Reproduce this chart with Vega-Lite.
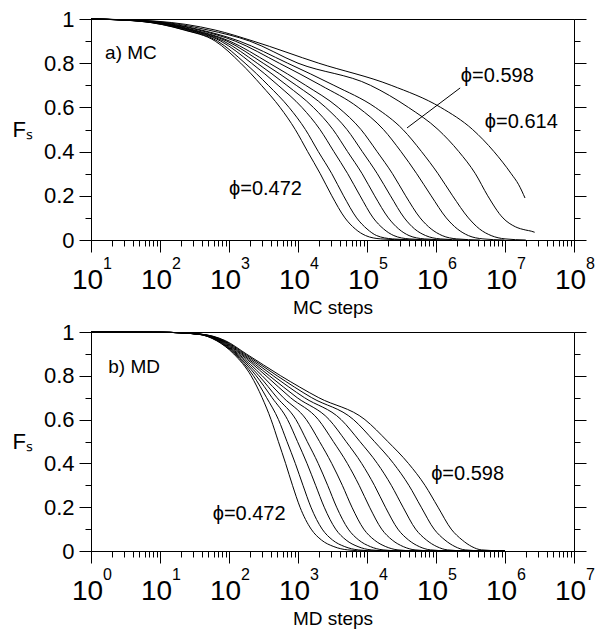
{
  "$schema": "https://vega.github.io/schema/vega-lite/v6.json",
  "padding": {"left": 11, "top": 7, "right": 2, "bottom": 2},
  "spacing": 2,
  "config": {
    "font": "Liberation Sans",
    "view": {"stroke": "black", "strokeWidth": 1},
    "axis": {"domainColor": "black", "tickColor": "black", "labelColor": "black", "titleColor": "black", "grid": false, "titleFontWeight": "normal", "labelFont": "Liberation Sans", "titleFont": "Liberation Sans", "labelFlush": false, "labelOverlap": false},
    "text": {"font": "Liberation Sans", "color": "black"}
  },
  "datasets": {
    "mc": [
      {"s":"c1","t":10,"F":1},{"s":"c1","t":50.1,"F":0.99},{"s":"c1","t":224,"F":0.95},{"s":"c1","t":631,"F":0.9},{"s":"c1","t":1480,"F":0.8},{"s":"c1","t":2950,"F":0.7},{"s":"c1","t":5500,"F":0.6},{"s":"c1","t":9120,"F":0.5},{"s":"c1","t":13800,"F":0.4},{"s":"c1","t":21000,"F":0.3},{"s":"c1","t":30900,"F":0.2},{"s":"c1","t":47900,"F":0.1},{"s":"c1","t":67600,"F":0.05},{"s":"c1","t":95500,"F":0.02},{"s":"c1","t":158000,"F":0.005},{"s":"c1","t":398000,"F":0},
      {"s":"c2","t":10,"F":1},{"s":"c2","t":51.3,"F":0.99},{"s":"c2","t":234,"F":0.95},{"s":"c2","t":680,"F":0.9},{"s":"c2","t":1710,"F":0.8},{"s":"c2","t":3710,"F":0.7},{"s":"c2","t":7410,"F":0.6},{"s":"c2","t":12800,"F":0.5},{"s":"c2","t":19700,"F":0.4},{"s":"c2","t":30900,"F":0.3},{"s":"c2","t":45700,"F":0.2},{"s":"c2","t":70800,"F":0.1},{"s":"c2","t":100000,"F":0.05},{"s":"c2","t":138000,"F":0.02},{"s":"c2","t":234000,"F":0.005},{"s":"c2","t":575000,"F":0},
      {"s":"c3","t":10,"F":1},{"s":"c3","t":54.3,"F":0.99},{"s":"c3","t":257,"F":0.95},{"s":"c3","t":759,"F":0.9},{"s":"c3","t":2120,"F":0.8},{"s":"c3","t":5150,"F":0.7},{"s":"c3","t":11400,"F":0.6},{"s":"c3","t":20800,"F":0.5},{"s":"c3","t":33100,"F":0.4},{"s":"c3","t":52500,"F":0.3},{"s":"c3","t":79400,"F":0.2},{"s":"c3","t":123000,"F":0.1},{"s":"c3","t":174000,"F":0.05},{"s":"c3","t":245000,"F":0.02},{"s":"c3","t":407000,"F":0.005},{"s":"c3","t":980000,"F":0},
      {"s":"c4","t":10,"F":1},{"s":"c4","t":56.2,"F":0.99},{"s":"c4","t":275,"F":0.95},{"s":"c4","t":832,"F":0.9},{"s":"c4","t":2560,"F":0.8},{"s":"c4","t":6890,"F":0.7},{"s":"c4","t":16700,"F":0.6},{"s":"c4","t":32100,"F":0.5},{"s":"c4","t":52200,"F":0.4},{"s":"c4","t":85000,"F":0.3},{"s":"c4","t":129000,"F":0.2},{"s":"c4","t":204000,"F":0.1},{"s":"c4","t":288000,"F":0.05},{"s":"c4","t":407000,"F":0.02},{"s":"c4","t":676000,"F":0.005},{"s":"c4","t":1580000,"F":0},
      {"s":"c5","t":10,"F":1},{"s":"c5","t":58.9,"F":0.99},{"s":"c5","t":295,"F":0.95},{"s":"c5","t":933,"F":0.9},{"s":"c5","t":3130,"F":0.8},{"s":"c5","t":9420,"F":0.7},{"s":"c5","t":25200,"F":0.6},{"s":"c5","t":51200,"F":0.5},{"s":"c5","t":85500,"F":0.4},{"s":"c5","t":141000,"F":0.3},{"s":"c5","t":219000,"F":0.2},{"s":"c5","t":347000,"F":0.1},{"s":"c5","t":490000,"F":0.05},{"s":"c5","t":708000,"F":0.02},{"s":"c5","t":1150000,"F":0.005},{"s":"c5","t":2630000,"F":0},
      {"s":"c6","t":10,"F":1},{"s":"c6","t":61.7,"F":0.99},{"s":"c6","t":316,"F":0.95},{"s":"c6","t":1020,"F":0.9},{"s":"c6","t":3850,"F":0.8},{"s":"c6","t":12900,"F":0.7},{"s":"c6","t":38200,"F":0.6},{"s":"c6","t":81700,"F":0.5},{"s":"c6","t":140000,"F":0.4},{"s":"c6","t":234000,"F":0.3},{"s":"c6","t":363000,"F":0.2},{"s":"c6","t":589000,"F":0.1},{"s":"c6","t":851000,"F":0.05},{"s":"c6","t":1230000,"F":0.02},{"s":"c6","t":2000000,"F":0.005},{"s":"c6","t":4370000,"F":0},
      {"s":"c7","t":10,"F":1},{"s":"c7","t":66.1,"F":0.99},{"s":"c7","t":363,"F":0.95},{"s":"c7","t":1230,"F":0.9},{"s":"c7","t":5350,"F":0.8},{"s":"c7","t":21400,"F":0.7},{"s":"c7","t":74500,"F":0.6},{"s":"c7","t":173000,"F":0.5},{"s":"c7","t":311000,"F":0.4},{"s":"c7","t":525000,"F":0.3},{"s":"c7","t":851000,"F":0.2},{"s":"c7","t":1410000,"F":0.1},{"s":"c7","t":2040000,"F":0.05},{"s":"c7","t":2950000,"F":0.02},{"s":"c7","t":4790000,"F":0.005},{"s":"c7","t":9800000,"F":0},
      {"s":"c8","t":10,"F":1},{"s":"c8","t":70.8,"F":0.99},{"s":"c8","t":398,"F":0.95},{"s":"c8","t":1410,"F":0.9},{"s":"c8","t":7080,"F":0.8},{"s":"c8","t":33100,"F":0.7},{"s":"c8","t":132000,"F":0.6},{"s":"c8","t":331000,"F":0.5},{"s":"c8","t":617000,"F":0.4},{"s":"c8","t":1070000,"F":0.3},{"s":"c8","t":1740000,"F":0.2},{"s":"c8","t":2950000,"F":0.1},{"s":"c8","t":4270000,"F":0.05},{"s":"c8","t":6310000,"F":0.02},{"s":"c8","t":10000000,"F":0.005},{"s":"c8","t":20000000,"F":0},
      {"s":"c9","t":10,"F":1},{"s":"c9","t":79.4,"F":0.99},{"s":"c9","t":501,"F":0.95},{"s":"c9","t":2000,"F":0.9},{"s":"c9","t":10000,"F":0.8},{"s":"c9","t":112000,"F":0.7},{"s":"c9","t":398000,"F":0.6},{"s":"c9","t":1070000,"F":0.5},{"s":"c9","t":2140000,"F":0.4},{"s":"c9","t":3720000,"F":0.3},{"s":"c9","t":5620000,"F":0.2},{"s":"c9","t":9330000,"F":0.1},{"s":"c9","t":14100000,"F":0.06},{"s":"c9","t":20000000,"F":0.045},{"s":"c9","t":24000000,"F":0.04},{"s":"c9","t":26900000,"F":0.035},
      {"s":"c10","t":10,"F":1},{"s":"c10","t":89.1,"F":0.99},{"s":"c10","t":631,"F":0.95},{"s":"c10","t":2240,"F":0.9},{"s":"c10","t":20000,"F":0.8},{"s":"c10","t":224000,"F":0.7},{"s":"c10","t":1170000,"F":0.6},{"s":"c10","t":3390000,"F":0.5},{"s":"c10","t":6920000,"F":0.4},{"s":"c10","t":12300000,"F":0.3},{"s":"c10","t":15800000,"F":0.25},{"s":"c10","t":19500000,"F":0.19}
    ],
    "md": [
      {"s":"e1","t":1,"F":1},{"s":"e1","t":10,"F":0.999},{"s":"e1","t":35.5,"F":0.99},{"s":"e1","t":66.1,"F":0.96},{"s":"e1","t":117,"F":0.9},{"s":"e1","t":209,"F":0.8},{"s":"e1","t":302,"F":0.7},{"s":"e1","t":407,"F":0.6},{"s":"e1","t":519,"F":0.5},{"s":"e1","t":661,"F":0.4},{"s":"e1","t":832,"F":0.3},{"s":"e1","t":1070,"F":0.2},{"s":"e1","t":1550,"F":0.1},{"s":"e1","t":2190,"F":0.05},{"s":"e1","t":3310,"F":0.02},{"s":"e1","t":5250,"F":0.005},{"s":"e1","t":10000,"F":0},{"s":"e1","t":1000000,"F":0},
      {"s":"e2","t":1,"F":1},{"s":"e2","t":10,"F":0.999},{"s":"e2","t":35.8,"F":0.99},{"s":"e2","t":67.6,"F":0.96},{"s":"e2","t":121,"F":0.9},{"s":"e2","t":226,"F":0.8},{"s":"e2","t":351,"F":0.7},{"s":"e2","t":521,"F":0.6},{"s":"e2","t":692,"F":0.5},{"s":"e2","t":914,"F":0.4},{"s":"e2","t":1180,"F":0.3},{"s":"e2","t":1540,"F":0.2},{"s":"e2","t":2240,"F":0.1},{"s":"e2","t":3170,"F":0.05},{"s":"e2","t":4760,"F":0.02},{"s":"e2","t":7460,"F":0.005},{"s":"e2","t":14400,"F":0},{"s":"e2","t":1000000,"F":0},
      {"s":"e3","t":1,"F":1},{"s":"e3","t":10,"F":0.999},{"s":"e3","t":36.2,"F":0.99},{"s":"e3","t":69.7,"F":0.96},{"s":"e3","t":126,"F":0.9},{"s":"e3","t":248,"F":0.8},{"s":"e3","t":421,"F":0.7},{"s":"e3","t":705,"F":0.6},{"s":"e3","t":982,"F":0.5},{"s":"e3","t":1350,"F":0.4},{"s":"e3","t":1800,"F":0.3},{"s":"e3","t":2400,"F":0.2},{"s":"e3","t":3510,"F":0.1},{"s":"e3","t":4980,"F":0.05},{"s":"e3","t":7410,"F":0.02},{"s":"e3","t":11500,"F":0.005},{"s":"e3","t":22400,"F":0},{"s":"e3","t":1000000,"F":0},
      {"s":"e4","t":1,"F":1},{"s":"e4","t":10,"F":0.999},{"s":"e4","t":36.6,"F":0.99},{"s":"e4","t":71.4,"F":0.96},{"s":"e4","t":131,"F":0.9},{"s":"e4","t":272,"F":0.8},{"s":"e4","t":498,"F":0.7},{"s":"e4","t":933,"F":0.6},{"s":"e4","t":1360,"F":0.5},{"s":"e4","t":1960,"F":0.4},{"s":"e4","t":2690,"F":0.3},{"s":"e4","t":3630,"F":0.2},{"s":"e4","t":5350,"F":0.1},{"s":"e4","t":7600,"F":0.05},{"s":"e4","t":11200,"F":0.02},{"s":"e4","t":17100,"F":0.005},{"s":"e4","t":33900,"F":0},{"s":"e4","t":1000000,"F":0},
      {"s":"e5","t":1,"F":1},{"s":"e5","t":10,"F":0.999},{"s":"e5","t":37.1,"F":0.99},{"s":"e5","t":74,"F":0.96},{"s":"e5","t":137,"F":0.9},{"s":"e5","t":303,"F":0.8},{"s":"e5","t":614,"F":0.7},{"s":"e5","t":1320,"F":0.6},{"s":"e5","t":2050,"F":0.5},{"s":"e5","t":3080,"F":0.4},{"s":"e5","t":4390,"F":0.3},{"s":"e5","t":6050,"F":0.2},{"s":"e5","t":8970,"F":0.1},{"s":"e5","t":12800,"F":0.05},{"s":"e5","t":18700,"F":0.02},{"s":"e5","t":28100,"F":0.005},{"s":"e5","t":56500,"F":0},{"s":"e5","t":1000000,"F":0},
      {"s":"e6","t":1,"F":1},{"s":"e6","t":10,"F":0.999},{"s":"e6","t":37.6,"F":0.99},{"s":"e6","t":76.7,"F":0.96},{"s":"e6","t":145,"F":0.9},{"s":"e6","t":344,"F":0.8},{"s":"e6","t":780,"F":0.7},{"s":"e6","t":1970,"F":0.6},{"s":"e6","t":3250,"F":0.5},{"s":"e6","t":5190,"F":0.4},{"s":"e6","t":7690,"F":0.3},{"s":"e6","t":10900,"F":0.2},{"s":"e6","t":16300,"F":0.1},{"s":"e6","t":23200,"F":0.05},{"s":"e6","t":33600,"F":0.02},{"s":"e6","t":49700,"F":0.005},{"s":"e6","t":101000,"F":0},{"s":"e6","t":1000000,"F":0},
      {"s":"e7","t":1,"F":1},{"s":"e7","t":10,"F":0.999},{"s":"e7","t":38.1,"F":0.99},{"s":"e7","t":79.4,"F":0.96},{"s":"e7","t":152,"F":0.9},{"s":"e7","t":385,"F":0.8},{"s":"e7","t":973,"F":0.7},{"s":"e7","t":2830,"F":0.6},{"s":"e7","t":4970,"F":0.5},{"s":"e7","t":8360,"F":0.4},{"s":"e7","t":12800,"F":0.3},{"s":"e7","t":18500,"F":0.2},{"s":"e7","t":28000,"F":0.1},{"s":"e7","t":40100,"F":0.05},{"s":"e7","t":57300,"F":0.02},{"s":"e7","t":83400,"F":0.005},{"s":"e7","t":173000,"F":0},{"s":"e7","t":1000000,"F":0},
      {"s":"e8","t":1,"F":1},{"s":"e8","t":10,"F":0.999},{"s":"e8","t":38.6,"F":0.99},{"s":"e8","t":82.6,"F":0.96},{"s":"e8","t":160,"F":0.9},{"s":"e8","t":438,"F":0.8},{"s":"e8","t":1240,"F":0.7},{"s":"e8","t":4220,"F":0.6},{"s":"e8","t":7890,"F":0.5},{"s":"e8","t":14100,"F":0.4},{"s":"e8","t":22500,"F":0.3},{"s":"e8","t":33300,"F":0.2},{"s":"e8","t":50600,"F":0.1},{"s":"e8","t":72800,"F":0.05},{"s":"e8","t":103000,"F":0.02},{"s":"e8","t":147000,"F":0.005},{"s":"e8","t":310000,"F":0},{"s":"e8","t":1000000,"F":0},
      {"s":"e9","t":1,"F":1},{"s":"e9","t":10,"F":0.999},{"s":"e9","t":39.3,"F":0.99},{"s":"e9","t":85.9,"F":0.96},{"s":"e9","t":169,"F":0.9},{"s":"e9","t":499,"F":0.8},{"s":"e9","t":1580,"F":0.7},{"s":"e9","t":6370,"F":0.6},{"s":"e9","t":12800,"F":0.5},{"s":"e9","t":24200,"F":0.4},{"s":"e9","t":40400,"F":0.3},{"s":"e9","t":61100,"F":0.2},{"s":"e9","t":93800,"F":0.1},{"s":"e9","t":135000,"F":0.05},{"s":"e9","t":189000,"F":0.02},{"s":"e9","t":265000,"F":0.005},{"s":"e9","t":570000,"F":0},{"s":"e9","t":1000000,"F":0},
      {"s":"e10","t":1,"F":1},{"s":"e10","t":10,"F":0.999},{"s":"e10","t":39.8,"F":0.99},{"s":"e10","t":89.1,"F":0.96},{"s":"e10","t":178,"F":0.9},{"s":"e10","t":562,"F":0.8},{"s":"e10","t":2000,"F":0.7},{"s":"e10","t":9330,"F":0.6},{"s":"e10","t":20000,"F":0.5},{"s":"e10","t":39800,"F":0.4},{"s":"e10","t":69200,"F":0.3},{"s":"e10","t":107000,"F":0.2},{"s":"e10","t":166000,"F":0.1},{"s":"e10","t":240000,"F":0.05},{"s":"e10","t":331000,"F":0.02},{"s":"e10","t":457000,"F":0.005},{"s":"e10","t":1000000,"F":0}
    ],
    "mcphi": [
      {"t":1000,"F":0.23,"label":"ϕ=0.472"},
      {"t":2290000,"F":0.742,"label":"ϕ=0.598"},
      {"t":5100000,"F":0.534,"label":"ϕ=0.614"}
    ],
    "mcpanel": [{"t":16,"F":0.846,"label":"a) MC"}],
    "mcpointer": [{"t":2240000,"F":0.688,"t2":380000,"F2":0.507}],
    "mdphi": [
      {"t":58,"F":0.17,"label":"ϕ=0.472"},
      {"t":85000,"F":0.35,"label":"ϕ=0.598"}
    ],
    "mdpanel": [{"t":1.78,"F":0.84,"label":"b) MD"}]
  },
  "vconcat": [
    {
      "width": 483,
      "height": 221,
      "resolve": {"axis": {"x": "independent", "y": "independent"}},
      "layer": [
        {
          "data": {"name": "mc"},
          "mark": {"type": "line", "color": "black", "strokeWidth": 1, "interpolate": "monotone"},
          "encoding": {
            "x": {"field": "t", "type": "quantitative", "scale": {"type": "log", "domain": [10, 100000000]},
              "axis": {"orient": "bottom", "values": [10,20,30,40,50,60,70,80,90,100,200,300,400,500,600,700,800,900,1000,2000,3000,4000,5000,6000,7000,8000,9000,1e4,2e4,3e4,4e4,5e4,6e4,7e4,8e4,9e4,1e5,2e5,3e5,4e5,5e5,6e5,7e5,8e5,9e5,1e6,2e6,3e6,4e6,5e6,6e6,7e6,8e6,9e6,1e7,2e7,3e7,4e7,5e7,6e7,7e7,8e7,9e7,1e8],
                "labelExpr": "indexof([10,100,1000,10000,100000,1000000,10000000,100000000], datum.value) >= 0 ? '10' : ''",
                "tickSize": {"condition": {"test": "indexof([10,100,1000,10000,100000,1000000,10000000,100000000], datum.value) >= 0", "value": 12}, "value": 6},
                "labelPadding": 14, "labelOffset": -4, "labelFontSize": 28,
                "title": "MC steps", "titleFontSize": 19, "titlePadding": 4}},
            "y": {"field": "F", "type": "quantitative", "scale": {"domain": [0, 1]},
              "axis": {"orient": "left", "values": [0,0.1,0.2,0.3,0.4,0.5,0.6,0.7,0.8,0.9,1], "format": "~g",
                "labelExpr": "indexof([0,0.2,0.4,0.6,0.8,1], datum.value) >= 0 ? datum.label : ''",
                "tickSize": {"condition": {"test": "indexof([0,0.2,0.4,0.6,0.8,1], datum.value) >= 0", "value": 12}, "value": 6},
                "labelPadding": 5, "labelFontSize": 22,
                "title": "Fₛ", "titleAngle": 0, "titleAlign": "right", "titleBaseline": "middle", "titleFontSize": 22, "titlePadding": 11}},
            "detail": {"field": "s"}
          }
        },
        {
          "data": {"values": [{}]},
          "mark": {"type": "rule", "opacity": 0},
          "encoding": {
            "x": {"datum": 10, "type": "quantitative", "scale": {"type": "log", "domain": [10, 100000000]},
              "axis": {"orient": "bottom", "values": [10,100,1000,10000,100000,1000000,10000000,100000000],
                "labelExpr": "'' + round(log(datum.value)/LN10)", "ticks": false, "domain": false,
                "labelPadding": 15, "labelOffset": 16, "labelFontSize": 16, "title": null}}
          }
        },
        {
          "data": {"values": [{}]},
          "mark": {"type": "rule", "opacity": 0},
          "encoding": {
            "y": {"datum": 0, "type": "quantitative", "scale": {"domain": [0, 1]},
              "axis": {"orient": "right", "values": [0,0.1,0.2,0.3,0.4,0.5,0.6,0.7,0.8,0.9,1], "labels": false,
                "tickSize": {"condition": {"test": "indexof([0,0.2,0.4,0.6,0.8,1], datum.value) >= 0", "value": 12}, "value": 6},
                "title": null}}
          }
        },
        {
          "data": {"name": "mcpointer"},
          "mark": {"type": "rule", "color": "black", "strokeWidth": 1},
          "encoding": {
            "x": {"field": "t", "type": "quantitative", "scale": {"type": "log", "domain": [10, 100000000]}, "axis": null},
            "x2": {"field": "t2"},
            "y": {"field": "F", "type": "quantitative", "axis": null},
            "y2": {"field": "F2"}
          }
        },
        {
          "data": {"name": "mcphi"},
          "mark": {"type": "text", "align": "left", "baseline": "middle", "fontSize": 20},
          "encoding": {
            "x": {"field": "t", "type": "quantitative", "scale": {"type": "log", "domain": [10, 100000000]}, "axis": null},
            "y": {"field": "F", "type": "quantitative", "axis": null},
            "text": {"field": "label"}
          }
        },
        {
          "data": {"name": "mcpanel"},
          "mark": {"type": "text", "align": "left", "baseline": "middle", "fontSize": 19},
          "encoding": {
            "x": {"field": "t", "type": "quantitative", "scale": {"type": "log", "domain": [10, 100000000]}, "axis": null},
            "y": {"field": "F", "type": "quantitative", "axis": null},
            "text": {"field": "label"}
          }
        }
      ]
    },
    {
      "width": 483,
      "height": 219,
      "resolve": {"axis": {"x": "independent", "y": "independent"}},
      "layer": [
        {
          "data": {"name": "md"},
          "mark": {"type": "line", "color": "black", "strokeWidth": 1, "interpolate": "monotone"},
          "encoding": {
            "x": {"field": "t", "type": "quantitative", "scale": {"type": "log", "domain": [1, 10000000]},
              "axis": {"orient": "bottom", "values": [1,2,3,4,5,6,7,8,9,10,20,30,40,50,60,70,80,90,100,200,300,400,500,600,700,800,900,1000,2000,3000,4000,5000,6000,7000,8000,9000,1e4,2e4,3e4,4e4,5e4,6e4,7e4,8e4,9e4,1e5,2e5,3e5,4e5,5e5,6e5,7e5,8e5,9e5,1e6,2e6,3e6,4e6,5e6,6e6,7e6,8e6,9e6,1e7],
                "labelExpr": "indexof([1,10,100,1000,10000,100000,1000000,10000000], datum.value) >= 0 ? '10' : ''",
                "tickSize": {"condition": {"test": "indexof([1,10,100,1000,10000,100000,1000000,10000000], datum.value) >= 0", "value": 12}, "value": 6},
                "labelPadding": 14, "labelOffset": -4, "labelFontSize": 28,
                "title": "MD steps", "titleFontSize": 19, "titlePadding": 4}},
            "y": {"field": "F", "type": "quantitative", "scale": {"domain": [0, 1]},
              "axis": {"orient": "left", "values": [0,0.1,0.2,0.3,0.4,0.5,0.6,0.7,0.8,0.9,1], "format": "~g",
                "labelExpr": "indexof([0,0.2,0.4,0.6,0.8,1], datum.value) >= 0 ? datum.label : ''",
                "tickSize": {"condition": {"test": "indexof([0,0.2,0.4,0.6,0.8,1], datum.value) >= 0", "value": 12}, "value": 6},
                "labelPadding": 5, "labelFontSize": 22,
                "title": "Fₛ", "titleAngle": 0, "titleAlign": "right", "titleBaseline": "middle", "titleFontSize": 22, "titlePadding": 11}},
            "detail": {"field": "s"}
          }
        },
        {
          "data": {"values": [{}]},
          "mark": {"type": "rule", "opacity": 0},
          "encoding": {
            "x": {"datum": 1, "type": "quantitative", "scale": {"type": "log", "domain": [1, 10000000]},
              "axis": {"orient": "bottom", "values": [1,10,100,1000,10000,100000,1000000,10000000],
                "labelExpr": "'' + round(log(datum.value)/LN10)", "ticks": false, "domain": false,
                "labelPadding": 15, "labelOffset": 16, "labelFontSize": 16, "title": null}}
          }
        },
        {
          "data": {"values": [{}]},
          "mark": {"type": "rule", "opacity": 0},
          "encoding": {
            "y": {"datum": 0, "type": "quantitative", "scale": {"domain": [0, 1]},
              "axis": {"orient": "right", "values": [0,0.1,0.2,0.3,0.4,0.5,0.6,0.7,0.8,0.9,1], "labels": false,
                "tickSize": {"condition": {"test": "indexof([0,0.2,0.4,0.6,0.8,1], datum.value) >= 0", "value": 12}, "value": 6},
                "title": null}}
          }
        },
        {
          "data": {"name": "mdphi"},
          "mark": {"type": "text", "align": "left", "baseline": "middle", "fontSize": 20},
          "encoding": {
            "x": {"field": "t", "type": "quantitative", "scale": {"type": "log", "domain": [1, 10000000]}, "axis": null},
            "y": {"field": "F", "type": "quantitative", "axis": null},
            "text": {"field": "label"}
          }
        },
        {
          "data": {"name": "mdpanel"},
          "mark": {"type": "text", "align": "left", "baseline": "middle", "fontSize": 19},
          "encoding": {
            "x": {"field": "t", "type": "quantitative", "scale": {"type": "log", "domain": [1, 10000000]}, "axis": null},
            "y": {"field": "F", "type": "quantitative", "axis": null},
            "text": {"field": "label"}
          }
        }
      ]
    }
  ]
}
